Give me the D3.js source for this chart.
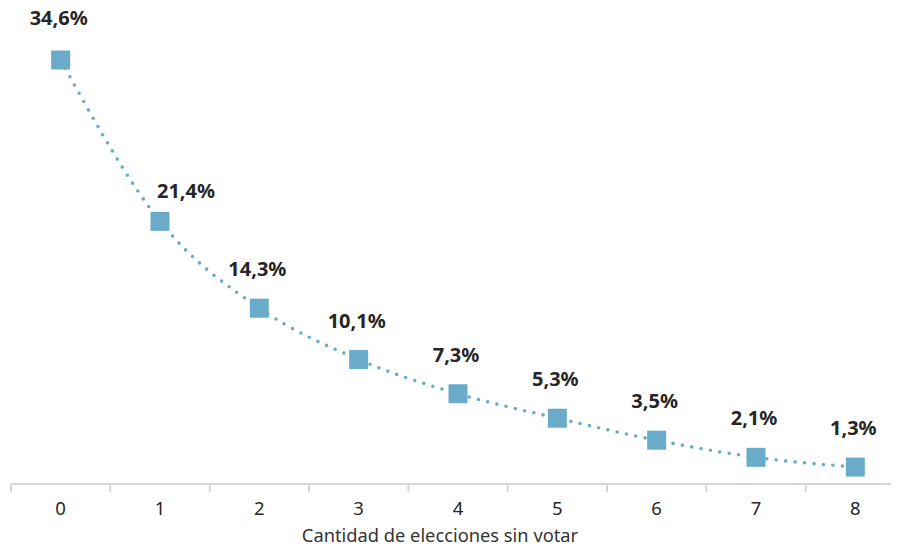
<!DOCTYPE html>
<html><head><meta charset="utf-8">
<script src="https://cdn.jsdelivr.net/npm/d3@7"></script>
<style>body{margin:0;background:#fff;} text{font-family:"Noto Sans",sans-serif;}</style>
</head><body>
<svg id="c" width="904" height="548"></svg>
<script>
const categories = ["0","1","2","3","4","5","6","7","8"];
const values = [34.6, 21.4, 14.3, 10.1, 7.3, 5.3, 3.5, 2.1, 1.3];
const labels = ["34,6%","21,4%","14,3%","10,1%","7,3%","5,3%","3,5%","2,1%","1,3%"];
const axisTitle = "Cantidad de elecciones sin votar";

const svg = d3.select("#c");
const x = d3.scaleBand().domain(categories).range([11, 905]);
const y = d3.scaleLinear().domain([0, 34.6]).range([483, 60]);
const color = "#6aabc9";

// axis
const ax = svg.append("g").attr("transform","translate(0,484)");
ax.append("line").attr("x1",11).attr("x2",891).attr("stroke","#d6d6d6").attr("stroke-width",2);
const bounds = categories.map(c => x(c));
ax.selectAll("line.t").data(bounds).join("line").attr("class","t")
  .attr("x1",d=>d).attr("x2",d=>d).attr("y1",0).attr("y2",8)
  .attr("stroke","#d6d6d6").attr("stroke-width",2);
ax.selectAll("text").data(categories).join("text")
  .attr("x",d=>x(d)+x.bandwidth()/2).attr("y",31)
  .attr("text-anchor","middle").attr("font-size",18.5).attr("fill","#262626").text(d=>d);
svg.append("text").attr("x",440).attr("y",542).attr("text-anchor","middle")
  .attr("font-size",18.3).attr("fill","#333").text(axisTitle);

const cx = (d,i) => x(categories[i]) + x.bandwidth()/2;
const line = d3.line().x((d,i)=>cx(d,i)).y(d=>y(d)).curve(d3.curveMonotoneX);
svg.append("path").datum(values).attr("d",line).attr("fill","none")
  .attr("stroke",color).attr("stroke-width",3.6).attr("stroke-linecap","round")
  .attr("stroke-dasharray","0 9.5");

svg.selectAll("rect.m").data(values).join("rect").attr("class","m")
  .attr("x",(d,i)=>cx(d,i)-9.5).attr("y",d=>y(d)-9.5).attr("width",19).attr("height",19)
  .attr("fill",color);

svg.selectAll("text.l").data(values).join("text").attr("class","l")
  .attr("x",(d,i)=>cx(d,i) + (i===1?26:-2))
  .attr("y",(d,i)=>y(d) - (i===1?23:(i===0?35:32)))
  .attr("text-anchor","middle").attr("font-size",20).attr("font-weight","bold")
  .attr("fill","#262626").text((d,i)=>labels[i]);
</script>
</body></html>
